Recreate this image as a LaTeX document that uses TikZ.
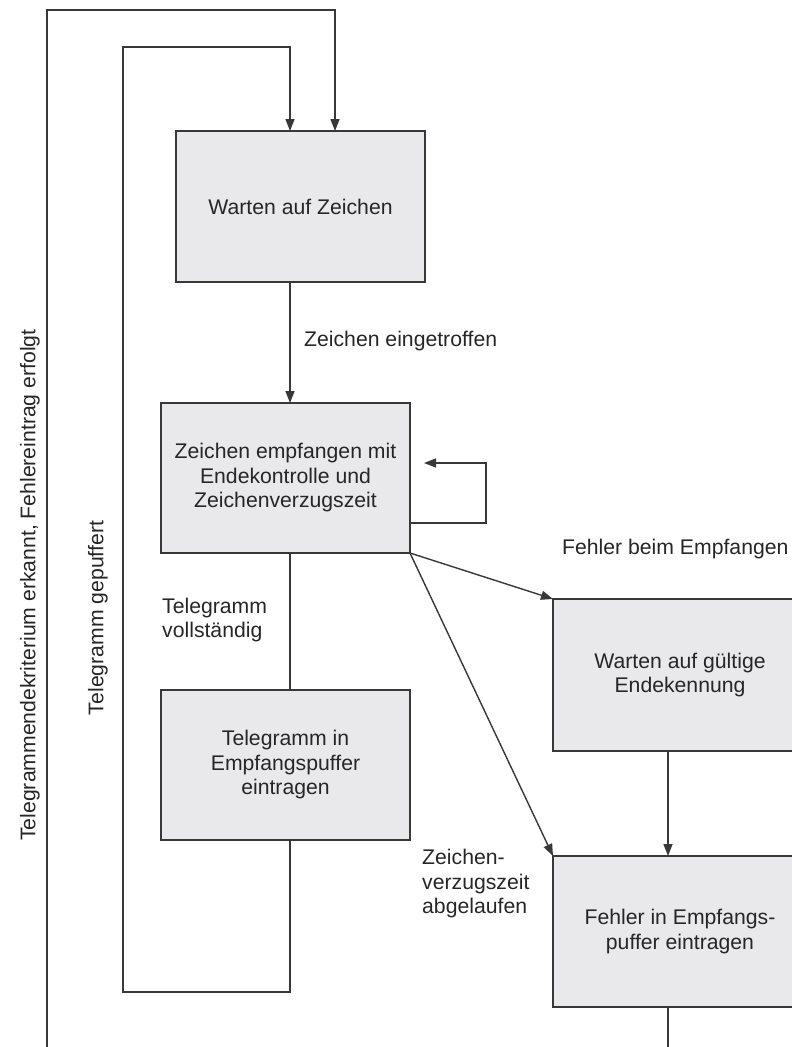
\documentclass[tikz,border=0pt]{standalone}
\usepackage{fontspec}
\setmainfont{Liberation Sans}
\usetikzlibrary{arrows.meta,calc}

\definecolor{linegray}{HTML}{383838}
\definecolor{boxfill}{HTML}{E9E9EB}

\tikzset{
  state/.style={draw=linegray, fill=boxfill, line width=1.4pt, inner sep=0pt,
    outer sep=0pt, align=center, text=black!85,
    font=\fontsize{21.2}{24.5}\selectfont},
  conn/.style={draw=linegray, line width=1.4pt},
  arr/.style={conn, -{Triangle[length=12pt,width=9pt]}},
  lbl/.style={inner sep=0pt, align=left, text=black!85,
    font=\fontsize{21.2}{24.5}\selectfont}
}

\begin{document}
\begin{tikzpicture}[x=1pt,y=-1pt]
\useasboundingbox (0,0) rectangle (792,1047);
\clip (0,0) rectangle (792,1047);

% states
\node[state, minimum width=249pt, minimum height=151pt] (b1) at (300.5,206.5)
  {Warten auf Zeichen};
\node[state, minimum width=249pt, minimum height=150pt] (b2) at (285.5,478)
  {Zeichen empfangen mit\\Endekontrolle und\\Zeichenverzugszeit};
\node[state, minimum width=249pt, minimum height=150pt] (b3) at (285.5,765)
  {Telegramm in\\Empfangspuffer\\eintragen};
\node[state, minimum width=254pt, minimum height=152pt] (b4) at (680,675)
  {Warten auf gültige\\Endekennung};
\node[state, minimum width=254pt, minimum height=151pt] (b5) at (680,931.5)
  {Fehler in Empfangs-\\puffer eintragen};

% routing points
\coordinate (o1) at (668,1065);
\coordinate (o2) at (47,1065);
\coordinate (o3) at (47,10);
\coordinate (o4) at (335,10);
\coordinate (i1) at (290,992);
\coordinate (i2) at (123,992);
\coordinate (i3) at (123,47);
\coordinate (i4) at (290,47);
\coordinate (s1) at (486,523);
\coordinate (s2) at (486,463);
\coordinate (s3) at (424,463);

% outer loop: error entered -> wait for characters
\draw[arr] (b5.south -| o1) -- (o1) -- (o2) -- (o3) -- (o4) -- (o4 |- b1.north);
% inner loop: telegram buffered -> wait for characters
\draw[arr] (i1 |- b3.south) -- (i1) -- (i2) -- (i3) -- (i4) -- (i4 |- b1.north);
% main flow
\draw[arr] (i4 |- b1.south) -- (i4 |- b2.north);
\draw[conn] (i4 |- b2.south) -- (i4 |- b3.north);
% self loop
\draw[arr] (b2.east |- s1) -- (s1) -- (s2) -- (s3);
% error branches
\draw[arr] (b2.south east) -- (b4.north west);
\draw[arr] (b2.south east) -- (b5.north west);
\draw[arr] (b4.south -| o1) -- (b5.north -| o1);

% labels
\node[lbl, anchor=west] (l1) at (304,341) {Zeichen eingetroffen};
\node[lbl, anchor=west] (l2) at (162,620) {Telegramm\\vollständig};
\node[lbl, anchor=west] (l3) at (562,549) {Fehler beim Empfangen};
\node[lbl, anchor=west] (l4) at (422,884) {Zeichen-\\verzugszeit\\abgelaufen};
\node[lbl, rotate=90] (l5) at (30,585)
  {Telegrammendekriterium erkannt, Fehlereintrag erfolgt};
\node[lbl, rotate=90] (l6) at (98,618) {Telegramm gepuffert};
\end{tikzpicture}
\end{document}
